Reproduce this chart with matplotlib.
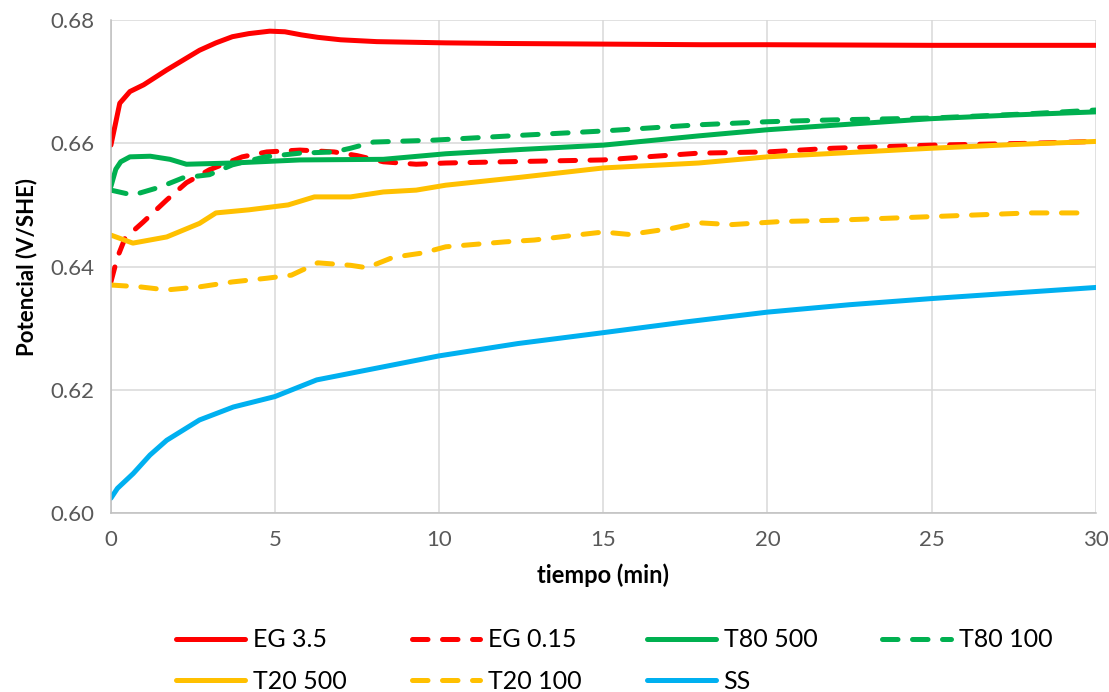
import matplotlib
matplotlib.use("Agg")
import matplotlib.pyplot as plt

plt.rcParams['font.family'] = ['Lato', 'DejaVu Sans']

# potencial vs tiempo, una serie por condicion
t_eg35 = [0, 0.12, 0.27, 0.58, 1.0, 1.7, 2.2, 2.7, 3.2, 3.7, 4.2, 4.84, 5.3, 5.8, 6.3,
          7.0, 8.1, 10.2, 12, 15, 18, 20, 25, 30]
v_eg35 = [0.6597, 0.6627, 0.6665, 0.6684, 0.6695, 0.6719, 0.6735, 0.6751, 0.6763, 0.6773,
          0.6778, 0.6782, 0.6781, 0.6776, 0.6772, 0.6768, 0.6765, 0.6763, 0.6762, 0.6761,
          0.6760, 0.6760, 0.6759, 0.6759]

t_eg015 = [0, 0.2, 0.43, 0.98, 1.7, 2.3, 3.0, 4.0, 4.75, 5.76, 6.8, 7.5, 8.3, 9.3, 10.2,
           12, 15, 17.9, 20, 22, 25, 28, 30]
v_eg015 = [0.6375, 0.6415, 0.6446, 0.6472, 0.6508, 0.6536, 0.6557, 0.6578, 0.6586, 0.6589,
           0.6586, 0.6580, 0.6570, 0.6566, 0.6568, 0.6570, 0.6573, 0.6584, 0.6586, 0.6592,
           0.6597, 0.6600, 0.6603]

t_t80_500 = [0, 0.15, 0.3, 0.58, 1.2, 1.8, 2.3, 3.7, 5.76, 8.3, 10.2, 12.5, 15, 17.9, 20,
             22.5, 25, 27.5, 30]
v_t80_500 = [0.6530, 0.6558, 0.6570, 0.6578, 0.6579, 0.6574, 0.6566, 0.6568, 0.6573, 0.6574,
             0.6583, 0.6590, 0.6597, 0.6612, 0.6622, 0.6631, 0.6640, 0.6646, 0.6651]

t_t80_100 = [0, 0.67, 1.5, 2.2, 3.0, 3.7, 4.7, 5.76, 6.8, 7.3, 8.0, 9.8, 12.5, 15, 17.9, 20,
             22, 25, 28, 30]
v_t80_100 = [0.6524, 0.6516, 0.6529, 0.6544, 0.6549, 0.6565, 0.6578, 0.6584, 0.6586, 0.6592,
             0.6602, 0.6605, 0.6613, 0.6620, 0.6630, 0.6635, 0.6638, 0.6641, 0.6648, 0.6654]

t_t20_500 = [0, 0.67, 1.7, 2.7, 3.2, 4.2, 5.4, 6.2, 7.3, 8.3, 9.3, 10.2, 12.5, 15, 17.9, 20,
             22.5, 25, 27.5, 30]
v_t20_500 = [0.6451, 0.6438, 0.6448, 0.6470, 0.6487, 0.6492, 0.6500, 0.6513, 0.6513, 0.6521,
             0.6524, 0.6532, 0.6545, 0.6560, 0.6568, 0.6578, 0.6585, 0.6592, 0.6598, 0.6603]

t_t20_100 = [0, 0.88, 1.7, 2.7, 3.7, 4.75, 5.5, 6.3, 7.3, 7.8, 8.6, 9.5, 10.2, 12, 12.9, 14,
             15, 15.8, 17.1, 17.9, 18.9, 20.4, 22, 25, 28, 29.7]
v_t20_100 = [0.6370, 0.6367, 0.6362, 0.6367, 0.6375, 0.6381, 0.6386, 0.6406, 0.6402, 0.6398,
             0.6415, 0.6422, 0.6432, 0.6440, 0.6443, 0.6450, 0.6456, 0.6452, 0.6462, 0.6471,
             0.6468, 0.6473, 0.6475, 0.6481, 0.6487, 0.6487]

t_ss = [0, 0.2, 0.68, 1.19, 1.7, 2.7, 3.73, 5.0, 6.27, 7.8, 10.0, 12.4, 14.9, 17.5, 20, 22.5,
        25, 27.5, 30]
v_ss = [0.6024, 0.6040, 0.6064, 0.6094, 0.6118, 0.6151, 0.6172, 0.6189, 0.6216, 0.6232,
        0.6255, 0.6275, 0.6292, 0.6310, 0.6326, 0.6338, 0.6348, 0.6357, 0.6366]

ROJO = '#FF0000'
VERDE = '#00B050'
AMARILLO = '#FFC000'
AZUL = '#00B0F0'

fig = plt.figure(figsize=(11.09, 6.92), dpi=100)
ax = fig.add_axes([0.100, 0.2587, 0.888, 0.7123])

lw = 3.6
dash = (3.1, 2.9)
series = [
    (t_eg35, v_eg35, ROJO, None, 'EG 3.5'),
    (t_eg015, v_eg015, ROJO, dash, 'EG 0.15'),
    (t_t80_500, v_t80_500, VERDE, None, 'T80 500'),
    (t_t80_100, v_t80_100, VERDE, dash, 'T80 100'),
    (t_t20_500, v_t20_500, AMARILLO, None, 'T20 500'),
    (t_t20_100, v_t20_100, AMARILLO, dash, 'T20 100'),
    (t_ss, v_ss, AZUL, None, 'SS'),
]
lines = {}
for t, v, c, d, name in series:
    ln, = ax.plot(t, v, color=c, lw=lw, solid_capstyle='round', dash_capstyle='round',
                  solid_joinstyle='round', label=name)
    if d is not None:
        ln.set_dashes(d)
    lines[name] = ln

ax.set_xlim(0, 30)
ax.set_ylim(0.60, 0.68)
ax.set_xticks([0, 5, 10, 15, 20, 25, 30])
ax.set_yticks([0.60, 0.62, 0.64, 0.66, 0.68])
ax.set_yticklabels(['0.60', '0.62', '0.64', '0.66', '0.68'])
ax.grid(True, color='#D9D9D9', lw=1.1)
ax.set_axisbelow(True)
for s in ['top', 'right']:
    ax.spines[s].set_visible(False)
for s in ['left', 'bottom']:
    ax.spines[s].set_color('#BFBFBF')
    ax.spines[s].set_linewidth(1.1)
ax.tick_params(length=0, labelsize=16, labelcolor='#595959', pad=12)

ax.set_xlabel('tiempo (min)', fontsize=17, fontweight='bold', labelpad=10)
ax.set_ylabel('Potencial (V/SHE)', fontsize=16, fontweight='bold', labelpad=9)

orden = ['EG 3.5', 'T20 500', 'EG 0.15', 'T20 100', 'T80 500', 'SS', 'T80 100']
leg = fig.legend([lines[k] for k in orden], orden, loc='center', ncol=4,
                 bbox_to_anchor=(0.554, 0.045), frameon=False, fontsize=18,
                 handlelength=2.75, handletextpad=0.32, columnspacing=2.6,
                 labelspacing=0.75)

fig.savefig('out.png', dpi=100)
